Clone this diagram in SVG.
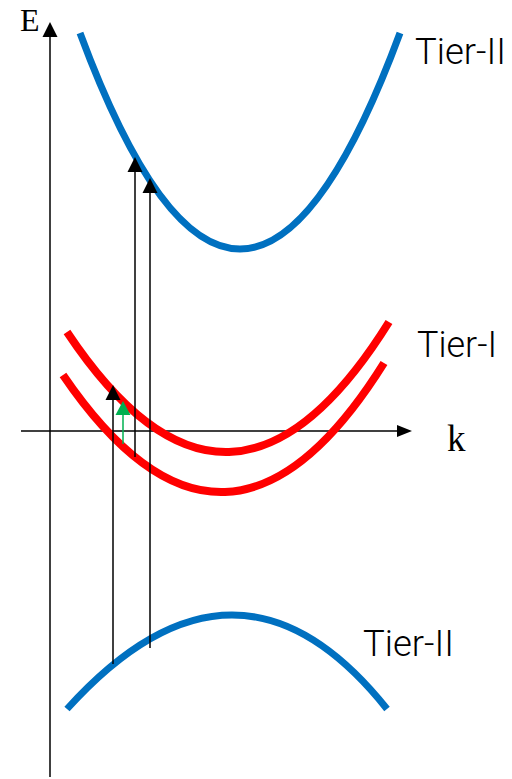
<svg xmlns="http://www.w3.org/2000/svg" width="512" height="779" viewBox="0 0 512 779">
<style>
.axis{stroke:#000;stroke-width:1.5;fill:none}
.tr{stroke:#000;stroke-width:1.5;fill:none}
.blue{stroke:#0070C0;stroke-width:7;fill:none}
.red{stroke:#FF0000;stroke-width:8;fill:none}
.lbl{font-family:Roboto,"Liberation Sans",sans-serif;font-weight:300;font-size:36px;fill:#000}
.ax{font-family:"Liberation Serif",serif;fill:#000}
</style>
<rect width="512" height="779" fill="#fff"/>
<g id="axes">
<line class="axis" x1="50" y1="777" x2="50" y2="36"/>
<polygon points="50,22 42.5,37 57.5,37" fill="#000"/>
<line class="axis" x1="21" y1="431" x2="399" y2="431"/>
<polygon points="412,431 397,425 397,437" fill="#000"/>
<text class="ax" x="20" y="31" font-size="32">E</text>
<text class="ax" x="447" y="451" font-size="37">k</text>
</g>
<g id="tier2-upper">
<path class="blue" d="M80,33 Q240,465 400,33"/>
<text class="lbl" x="415" y="64" textLength="91" lengthAdjust="spacingAndGlyphs">Tier-II</text>
</g>
<g id="tier1">
<path class="red" d="M67,332 Q230,577 389,322"/>
<path class="red" d="M63,375 Q226.5,615 384,363"/>
<text class="lbl" x="417" y="357" textLength="80" lengthAdjust="spacingAndGlyphs">Tier-I</text>
</g>
<g id="tier2-lower">
<path class="blue" d="M67,709 Q237,521 387,709"/>
<text class="lbl" x="363" y="656" textLength="91" lengthAdjust="spacingAndGlyphs">Tier-II</text>
</g>
<g id="connectors">
<line class="tr" x1="113" y1="664" x2="113" y2="398"/>
<polygon points="113,385 105.5,400 120.5,400" fill="#000"/>
<line class="tr" x1="135" y1="457" x2="135" y2="170"/>
<polygon points="135,157 127.5,172 142.5,172" fill="#000"/>
<line class="tr" x1="150" y1="648" x2="150" y2="191"/>
<polygon points="150,178 142.5,193 157.5,193" fill="#000"/>
<line x1="123" y1="444" x2="123" y2="413" stroke="#00B050" stroke-width="1.5"/>
<polygon points="123,401 115.5,415 130.5,415" fill="#00B050"/>
</g>
</svg>
